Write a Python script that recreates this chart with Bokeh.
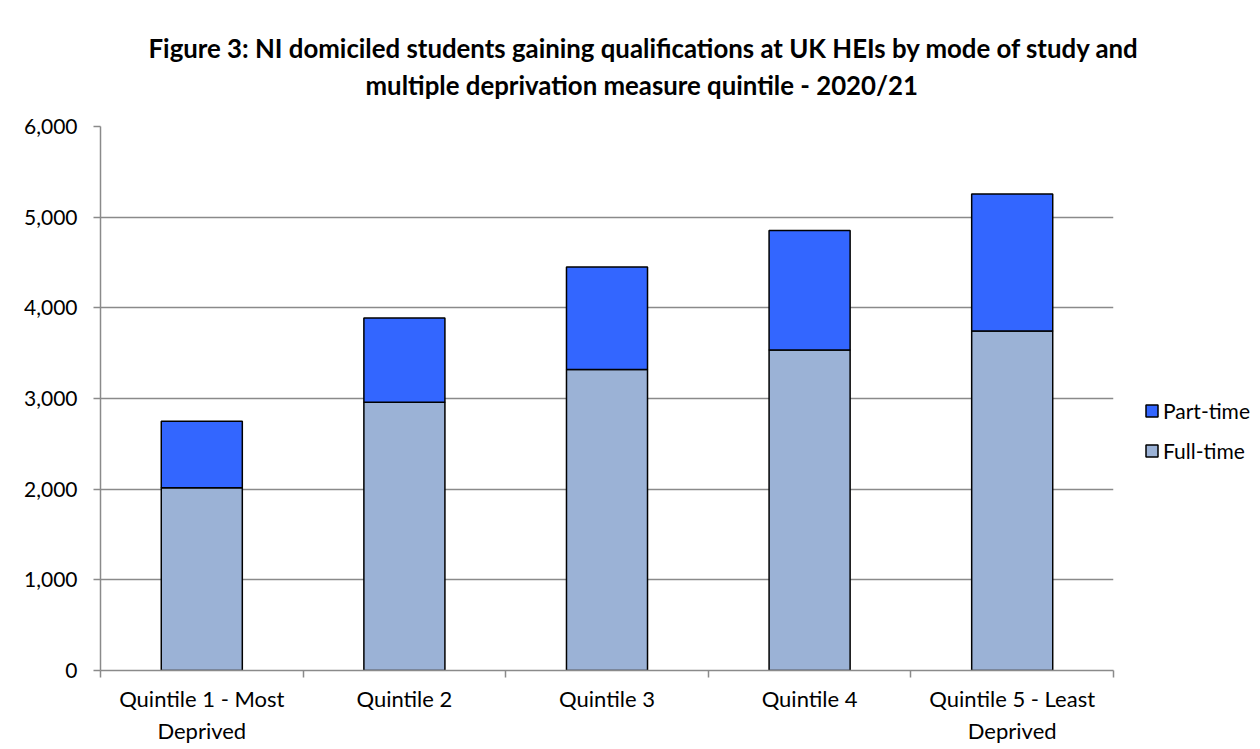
import numpy as np
from bokeh.plotting import figure
from bokeh.models import (ColumnDataSource, FixedTicker, NumeralTickFormatter,
                          Range1d, Legend, LegendItem, Title)
from bokeh.embed import file_html
from bokeh.resources import INLINE

# ---- data ----
categories = ["Quintile 1 - Most\nDeprived", "Quintile 2", "Quintile 3",
              "Quintile 4", "Quintile 5 - Least\nDeprived"]
full_time = [2015, 2960, 3320, 3535, 3745]
part_time = [735, 927, 1130, 1318, 1510]
y_ticks = [0, 1000, 2000, 3000, 4000, 5000, 6000]
title_lines = ["Figure 3: NI domiciled students gaining qualifications at UK HEIs by mode of study and",
               "multiple deprivation measure quintile - 2020/21"]
series_names = ["Full-time", "Part-time"]
series_colors = ["#9BB2D6", "#3366FF"]

FONT = "Lato"
GREY = "#8a8a8a"

n = len(categories)
centers = (np.arange(n) + 0.5).tolist()
bounds = np.arange(n + 1).tolist()

src = ColumnDataSource(dict(x=centers, **{"Full-time": full_time, "Part-time": part_time}))

p = figure(frame_width=1013, frame_height=544,
           min_border_left=100, min_border_right=143,
           min_border_top=126, min_border_bottom=75,
           x_range=Range1d(0, n), y_range=Range1d(0, 6000),
           output_backend="svg", toolbar_location=None,
           background_fill_color="white", border_fill_color="white")
p.outline_line_color = None

rs = p.vbar_stack(series_names, x="x", width=0.4, source=src,
                  color=series_colors, line_color="black", line_width=1.5)

# axes
p.xaxis.ticker = FixedTicker(ticks=centers, minor_ticks=bounds)
p.xaxis.major_label_overrides = {c: lab for c, lab in zip(centers, categories)}
p.xaxis.major_tick_out = 0
p.xaxis.major_tick_in = 0
p.xaxis.minor_tick_out = 7
p.xaxis.minor_tick_in = 0
p.xaxis.minor_tick_line_color = GREY
p.xaxis.minor_tick_line_width = 1.5
p.xaxis.axis_line_color = GREY
p.xaxis.axis_line_width = 1.5
p.xaxis.major_label_standoff = 7
p.xaxis.major_label_text_font = FONT
p.xaxis.major_label_text_font_size = "22px"
p.xaxis.major_label_text_color = "black"
p.xgrid.grid_line_color = None

p.yaxis.ticker = FixedTicker(ticks=y_ticks)
p.yaxis.formatter = NumeralTickFormatter(format="0,0")
p.yaxis.major_tick_out = 7
p.yaxis.major_tick_in = 0
p.yaxis.minor_tick_out = 0
p.yaxis.minor_tick_in = 0
p.yaxis.major_tick_line_color = GREY
p.yaxis.axis_line_color = GREY
p.yaxis.axis_line_width = 1.5
p.yaxis.major_tick_line_width = 1.5
p.yaxis.major_label_standoff = 16
p.yaxis.major_label_text_font = FONT
p.yaxis.major_label_text_font_size = "21px"
p.yaxis.major_label_text_color = "black"
p.ygrid.grid_line_color = GREY
p.ygrid.grid_line_width = 1.5
p.ygrid.ticker = FixedTicker(ticks=y_ticks)

# spacer between plot area and title block
p.add_layout(Title(text=" ", text_font_size="1px", standoff=21), "above")
# title (two lines, line 2 added first so it sits closest to the plot)
for txt, off in zip(title_lines[::-1], [265, 48]):
    p.add_layout(Title(text=txt, align="left", offset=off, standoff=5,
                       text_font=FONT, text_font_style="bold", text_font_size="25.8px",
                       text_color="black"), "above")

# legend
legend = Legend(items=[LegendItem(label=series_names[1], renderers=[rs[1]]),
                       LegendItem(label=series_names[0], renderers=[rs[0]])],
                location=(31, 207), orientation="vertical",
                glyph_width=15, glyph_height=15, label_standoff=4,
                label_height=14, spacing=15, padding=0, margin=0,
                border_line_color=None, background_fill_alpha=0,
                label_text_font=FONT, label_text_font_size="21px",
                label_text_color="black")
p.add_layout(legend, "right")

open("out.html", "w").write(file_html(p, INLINE))
